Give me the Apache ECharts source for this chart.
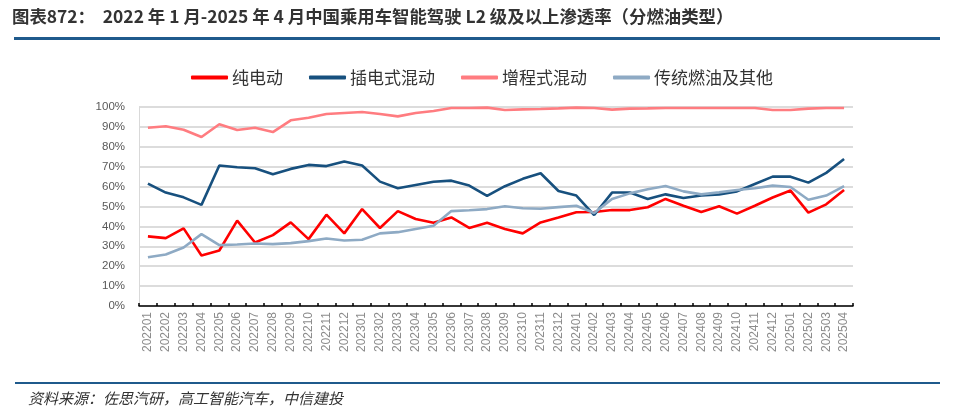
<!DOCTYPE html>
<html>
<head>
<meta charset="utf-8">
<script src="https://cdn.jsdelivr.net/npm/echarts@6/dist/echarts.min.js"></script>
<style>
html,body{margin:0;padding:0;background:#fff;}
#chart{width:960px;height:420px;}
</style>
</head>
<body>
<div id="chart"></div>
<script>
var categories = ['202201','202202','202203','202204','202205','202206','202207','202208','202209','202210','202211','202212',
'202301','202302','202303','202304','202305','202306','202307','202308','202309','202310','202311','202312',
'202401','202402','202403','202404','202405','202406','202407','202408','202409','202410','202411','202412',
'202501','202502','202503','202504'];
var bev = [35.0,34.1,39.0,25.4,27.9,42.9,31.9,35.6,42.0,33.6,45.9,36.5,
48.7,39.2,47.7,43.7,41.8,44.5,39.2,41.8,38.7,36.5,42.0,44.5,
47.1,47.2,48.2,48.2,49.6,53.8,50.4,47.2,50.1,46.4,50.4,54.5,
58.0,46.9,51.1,58.3];
var phev = [61.5,57.0,54.6,50.8,70.6,69.7,69.2,66.2,68.9,70.9,70.3,72.6,
70.6,62.5,59.2,60.8,62.4,63.0,60.5,55.3,60.2,63.9,66.7,57.8,
55.5,45.7,57.0,57.0,53.8,56.1,54.3,55.5,56.1,57.6,61.3,65.0,
65.0,62.0,66.9,73.9];
var erev = [89.6,90.3,88.6,84.9,91.3,88.4,89.6,87.4,93.3,94.6,96.5,97.0,
97.5,96.5,95.3,97.0,98.0,99.5,99.5,99.7,98.5,98.8,99.0,99.3,
99.7,99.5,98.7,99.2,99.3,99.5,99.5,99.5,99.5,99.5,99.5,98.5,
98.5,99.2,99.5,99.5];
var ice = [24.5,25.9,29.4,36.1,30.6,30.9,31.4,31.1,31.6,32.6,33.9,32.9,
33.3,36.5,37.1,38.7,40.3,47.7,48.1,48.7,50.1,49.1,48.9,49.7,
50.4,46.7,53.8,56.6,58.7,60.3,57.6,56.1,57.1,58.3,59.2,60.5,
59.8,53.4,55.5,60.2];
var seriesNames = ['纯电动','插电式混动','增程式混动','传统燃油及其他'];
var yTicks = [0,10,20,30,40,50,60,70,80,90,100];
var titleText = '图表872：  2022 年 1 月-2025 年 4 月中国乘用车智能驾驶 L2 级及以上渗透率（分燃油类型）';
var sourceText = '资料来源：佐思汽研，高工智能汽车，中信建投';

var colors = ['#FF0000','#17507E','#FF7C80','#8EAAC4'];
var dataSets = [bev, phev, erev, ice];

var chart = echarts.init(document.getElementById('chart'));
var option = {
  animation: false,
  backgroundColor: '#fff',
  color: colors,
  graphic: [
    {type:'text', left: 12, top: 8, style:{text: titleText, fontSize: 17.4, fontWeight:'bold', fill:'#333', fontFamily:'"Noto Sans CJK SC", sans-serif'}},
    {type:'rect', shape:{x:14, y:37, width:926, height:3}, style:{fill:'#1F5A8C'}},
    {type:'rect', shape:{x:15, y:382, width:925, height:2}, style:{fill:'#1F5A8C'}},
    {type:'text', left: 28, top: 391, style:{text: sourceText, fontSize: 15, fontStyle:'italic', fill:'#333', fontFamily:'"Noto Sans CJK SC", sans-serif'}}
  ],
  legend: {
    left: 186, top: 64,
    icon: 'roundRect',
    itemWidth: 37, itemHeight: 4,
    itemGap: 26,
    textStyle: {fontSize: 17, color:'#333', fontFamily:'"Noto Sans CJK SC", sans-serif', padding:[0,0,0,-1]},
    data: seriesNames
  },
  grid: {left: 139, right: 107, top: 107, bottom: 114, containLabel: false},
  xAxis: {
    type: 'category',
    data: categories,
    boundaryGap: true,
    axisLine: {lineStyle:{color:'#000', width:1.5}},
    axisTick: {show:true, inside:true, alignWithLabel:false, length:3, lineStyle:{color:'#000', width:1.5}},
    axisLabel: {interval:0, rotate:90, fontSize:12, color:'#8c8c8c', margin:6, fontFamily:'Arial, "Liberation Sans", sans-serif'}
  },
  yAxis: {
    type: 'value',
    min: 0, max: 100, interval: 10,
    axisLine: {show:true, lineStyle:{color:'#d9d9d9', width:1}},
    axisTick: {show:false},
    axisLabel: {fontSize:11.5, color:'#595959', margin:14, formatter: function(v){return v + '%';}, fontFamily:'Arial, "Liberation Sans", sans-serif'},
    splitLine: {lineStyle:{color:'#d0d0d0', width:1.5}}
  },
  series: seriesNames.map(function(n, i){
    return {
      name: n, type: 'line', data: dataSets[i], symbol: 'none', smooth: false,
      lineStyle: {width: 2.6, color: colors[i]},
      itemStyle: {color: colors[i]}
    };
  })
};
chart.setOption(option);
</script>
</body>
</html>
